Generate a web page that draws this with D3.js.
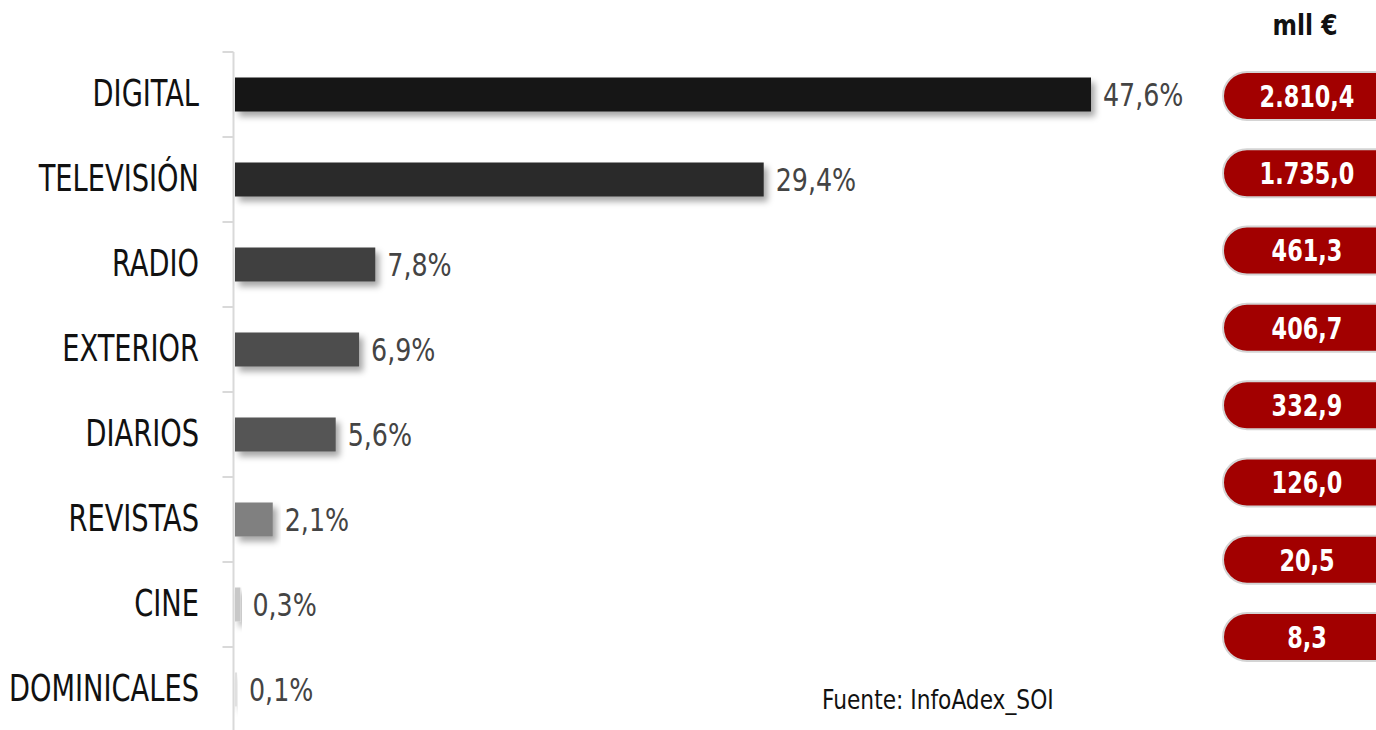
<!DOCTYPE html>
<html>
<head>
<meta charset="utf-8">
<script src="https://cdn.jsdelivr.net/npm/d3@7"></script>
<style>
  body { margin: 0; background: #fff; }
  svg { display: block; }
  text { font-family: "Liberation Sans Narrow", "Arial Narrow", "DejaVu Sans Condensed", sans-serif; }
</style>
</head>
<body>
<svg id="chart" width="1376" height="730"></svg>
<script>
// datos
const categories = ['DIGITAL', 'TELEVISIÓN', 'RADIO', 'EXTERIOR', 'DIARIOS', 'REVISTAS', 'CINE', 'DOMINICALES'];
const shares = [47.6, 29.4, 7.8, 6.9, 5.6, 2.1, 0.3, 0.1];
const shareLabels = ['47,6%', '29,4%', '7,8%', '6,9%', '5,6%', '2,1%', '0,3%', '0,1%'];
const amounts = ['2.810,4', '1.735,0', '461,3', '406,7', '332,9', '126,0', '20,5', '8,3'];
const barColors = ['#171717', '#2b2b2b', '#404040', '#4d4d4d', '#555555', '#808080', '#c8c8c8', '#e0e0e0'];

const svg = d3.select('#chart');

// la fuente condensada disponible es más ancha: se estrecha en horizontal
const squeeze = (sx) => (px, py) => `translate(${px},${py}) scale(${sx},1)`;

// sombra de las barras
const defs = svg.append('defs');
const shadow = defs.append('filter').attr('id', 'shadow')
  .attr('x', '-10%').attr('y', '-30%').attr('width', '130%').attr('height', '190%');
shadow.append('feDropShadow')
  .attr('dx', 4).attr('dy', 5).attr('stdDeviation', 3)
  .attr('flood-color', '#000').attr('flood-opacity', 0.35);

const x = d3.scaleLinear().domain([0, 47.6]).range([235, 1091]);
const y = d3.scaleBand().domain(categories).range([52, 732]).paddingInner(0.6).paddingOuter(0.3);
const yAxisBand = d3.scaleBand().domain(categories).range([52, 732]);
const yPill = d3.scalePoint().domain(categories).range([96, 637]);

// eje vertical
const axis = svg.append('g').attr('transform', 'translate(233.5,0)');
axis.append('line').attr('y1', 52).attr('y2', 730).attr('stroke', '#d9d9d9').attr('stroke-width', 2);
axis.selectAll('line.tick')
  .data(categories)
  .enter()
  .append('line')
  .attr('class', 'tick')
  .attr('x1', -11).attr('x2', 0)
  .attr('y1', d => yAxisBand(d)).attr('y2', d => yAxisBand(d))
  .attr('stroke', '#d9d9d9').attr('stroke-width', 2);

// etiquetas de categoría
const catPos = squeeze(0.82);
svg.selectAll('text.cat')
  .data(categories)
  .enter()
  .append('text')
  .attr('class', 'cat')
  .attr('transform', d => catPos(199, yAxisBand(d) + yAxisBand.bandwidth() / 2))
  .attr('dy', '0.3em')
  .attr('text-anchor', 'end')
  .style('font-size', '37px')
  .style('fill', '#111')
  .text(d => d);

// barras
svg.selectAll('rect.bar')
  .data(categories)
  .enter()
  .append('rect')
  .attr('class', 'bar')
  .attr('x', x(0))
  .attr('y', d => y(d))
  .attr('width', (d, i) => Math.max(2, x(shares[i]) - x(0)))
  .attr('height', y.bandwidth())
  .attr('fill', (d, i) => barColors[i])
  .attr('filter', 'url(#shadow)');

// porcentajes
const pctPos = squeeze(0.88);
svg.selectAll('text.pct')
  .data(categories)
  .enter()
  .append('text')
  .attr('class', 'pct')
  .attr('transform', (d, i) => pctPos(Math.max(x(shares[i]), x(0) + 2) + 12, y(d) + y.bandwidth() / 2))
  .attr('dy', '0.36em')
  .style('font-size', '32px')
  .style('fill', '#444')
  .text((d, i) => shareLabels[i]);

// cabecera de importes
svg.append('text')
  .attr('transform', squeeze(0.9)(1305, 35))
  .attr('text-anchor', 'middle')
  .style('font-size', '29px').style('font-weight', 'bold').style('fill', '#111')
  .text('mll €');

// importes en píldoras
const pill = svg.selectAll('g.pill')
  .data(categories)
  .enter()
  .append('g')
  .attr('class', 'pill')
  .attr('transform', d => `translate(0,${yPill(d)})`);

pill.append('rect')
  .attr('x', 1223).attr('y', -24)
  .attr('width', 200).attr('height', 48)
  .attr('rx', 24).attr('ry', 24)
  .attr('fill', '#a20000')
  .attr('stroke', '#d4d4d4').attr('stroke-width', 2);

pill.append('text')
  .attr('transform', squeeze(0.83)(1307, 0))
  .attr('dy', '0.36em')
  .attr('text-anchor', 'middle')
  .style('font-size', '30px').style('font-weight', 'bold').style('fill', '#fff')
  .text((d, i) => amounts[i]);

// fuente
svg.append('text')
  .attr('transform', squeeze(0.93)(822, 709))
  .style('font-size', '26px').style('fill', '#111')
  .text('Fuente: InfoAdex_SOI');
</script>
</body>
</html>
